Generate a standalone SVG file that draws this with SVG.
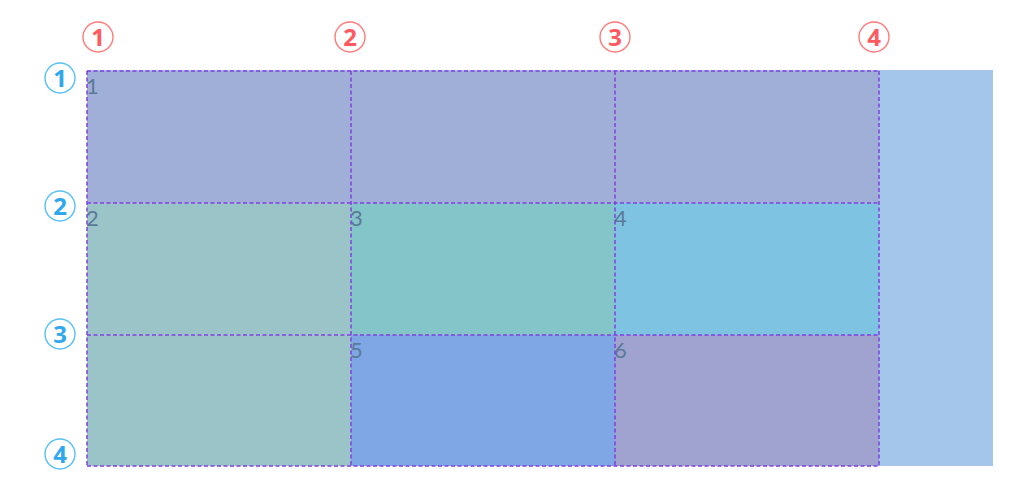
<svg xmlns="http://www.w3.org/2000/svg" width="1024" height="494" viewBox="0 0 1024 494">
<style>
.rc{fill:none;stroke:#FF7A7A;stroke-width:1.4}
.rt{fill:#FF5A5F;font-family:"Noto Sans","DejaVu Sans",sans-serif;font-weight:bold;font-size:24px;text-anchor:middle}
.bc{fill:none;stroke:#55C0F5;stroke-width:1.4}
.bt{fill:#2FA8F0;font-family:"Noto Sans","DejaVu Sans",sans-serif;font-weight:bold;font-size:24px;text-anchor:middle}
.num{fill:#5A7A98;font-family:"Lato","Noto Sans",sans-serif;font-weight:normal;font-size:22px}
.grid{stroke:#8040E0;stroke-width:1.5;stroke-dasharray:4 2.5;fill:none}
</style>
<rect x="0" y="0" width="1024" height="494" fill="#ffffff"/>
<rect id="container" x="87" y="70" width="906" height="396" fill="#A3C6EA"/>
<g id="cell1"><rect x="87" y="71" width="792" height="132" fill="#A0AFD7"/><text class="num" x="86" y="94">1</text></g>
<g id="cell2"><rect x="87" y="203" width="264" height="263" fill="#9AC4C8"/><text class="num" x="86" y="226">2</text></g>
<g id="cell3"><rect x="351" y="203" width="264" height="132" fill="#84C5C9"/><text class="num" x="350" y="226">3</text></g>
<g id="cell4"><rect x="615" y="203" width="264" height="132" fill="#7EC3E2"/><text class="num" x="614" y="226">4</text></g>
<g id="cell5"><rect x="351" y="335" width="264" height="131" fill="#7FA7E6"/><text class="num" x="350" y="358">5</text></g>
<g id="cell6"><rect x="615" y="335" width="264" height="131" fill="#A0A3D0"/><text class="num" x="614" y="358">6</text></g>
<g id="gridlines">
<line class="grid" x1="87" y1="71" x2="879" y2="71"/>
<line class="grid" x1="87" y1="203" x2="879" y2="203"/>
<line class="grid" x1="87" y1="335" x2="879" y2="335"/>
<line class="grid" x1="87" y1="466" x2="879" y2="466"/>
<line class="grid" x1="87" y1="71" x2="87" y2="466"/>
<line class="grid" x1="351" y1="71" x2="351" y2="466"/>
<line class="grid" x1="615" y1="71" x2="615" y2="466"/>
<line class="grid" x1="879" y1="71" x2="879" y2="466"/>
</g>
<g id="col-labels">
<circle class="rc" cx="98" cy="37" r="15"/><text class="rt" x="98" y="46">1</text>
<circle class="rc" cx="350" cy="37" r="15"/><text class="rt" x="350" y="46">2</text>
<circle class="rc" cx="615" cy="37" r="15"/><text class="rt" x="615" y="46">3</text>
<circle class="rc" cx="874" cy="37" r="15"/><text class="rt" x="874" y="46">4</text>
</g>
<g id="row-labels">
<circle class="bc" cx="60" cy="78" r="15"/><text class="bt" x="60" y="87">1</text>
<circle class="bc" cx="60" cy="206" r="15"/><text class="bt" x="60" y="215">2</text>
<circle class="bc" cx="60" cy="334" r="15"/><text class="bt" x="60" y="343">3</text>
<circle class="bc" cx="60" cy="454" r="15"/><text class="bt" x="60" y="463">4</text>
</g>
</svg>
